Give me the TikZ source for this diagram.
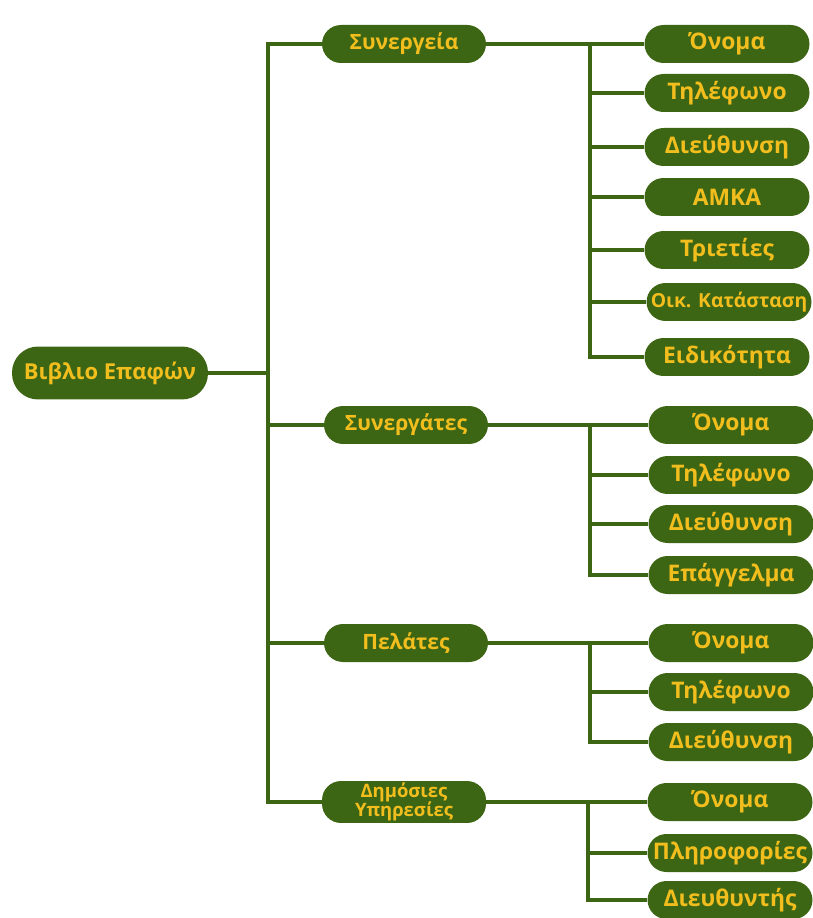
\documentclass[tikz,border=0pt]{standalone}
\usepackage{fontspec}
\setmainfont{Open Sans}
\usetikzlibrary{positioning}
\definecolor{boxgreen}{RGB}{61,102,20}
\definecolor{labelgold}{RGB}{242,190,30}

\begin{document}
\begin{tikzpicture}[
  x=0.02cm, y=-0.02cm,
  box/.style={fill=boxgreen,text=labelgold,rounded corners=0.38cm,minimum height=0.76cm,inner sep=1pt,align=center},
  root/.style={box,rounded corners=0.52cm,minimum width=3.92cm,minimum height=1.06cm,font=\bfseries\fontsize{12.5}{14}\selectfont},
  cat/.style={box,minimum width=3.28cm,font=\bfseries\fontsize{12}{14}\selectfont},
  leaf/.style={box,minimum width=3.3cm,font=\bfseries\fontsize{13}{15}\selectfont},
  small/.style={font=\bfseries\fontsize{11}{12}\selectfont},
  line/.style={draw=boxgreen,line width=2pt},
]
\useasboundingbox (0,0) rectangle (812,918);

\node[root] (book)     at (110,373) {Βιβλιο Επαφών};
\node[cat]  (garages)  at (404,44)  {Συνεργεία};
\node[cat]  (partners) at (406,425) {Συνεργάτες};
\node[cat]  (clients)  at (406,643) {Πελάτες};
\node[cat,font=\bfseries\fontsize{10.5}{11}\selectfont] (services) at (404,802) {Δημόσιες\\Υπηρεσίες};

% Συνεργεία
\node[leaf] (g-name)    at (727,44)  {Όνομα};
\node[leaf] (g-phone)   at (727,93)  {Τηλέφωνο};
\node[leaf] (g-address) at (727,147) {Διεύθυνση};
\node[leaf] (g-amka)    at (727,197) {ΑΜΚΑ};
\node[leaf] (g-years)   at (727,250) {Τριετίες};
\node[leaf,small] (g-family) at (729,302) {Οικ. Κατάσταση};
\node[leaf] (g-special) at (727,357) {Ειδικότητα};

% Συνεργάτες
\node[leaf] (p-name)    at (731,425) {Όνομα};
\node[leaf] (p-phone)   at (731,475) {Τηλέφωνο};
\node[leaf] (p-address) at (731,524) {Διεύθυνση};
\node[leaf] (p-job)     at (731,575) {Επάγγελμα};

% Πελάτες
\node[leaf] (c-name)    at (731,643) {Όνομα};
\node[leaf] (c-phone)   at (731,692) {Τηλέφωνο};
\node[leaf] (c-address) at (731,742) {Διεύθυνση};

% Δημόσιες Υπηρεσίες
\node[leaf] (s-name)    at (730,802) {Όνομα};
\node[leaf] (s-info)    at (730,853) {Πληροφορίες};
\node[leaf] (s-head)    at (730,900) {Διευθυντής};

\coordinate (trunk) at (268,373);
\coordinate (fork)  at (590,0);
\coordinate (fork4) at (588,0);

\draw[line] (book) -- (trunk);
\draw[line] (garages.west) -| (trunk) |- (services.west);
\draw[line] (trunk |- partners) -- (partners);
\draw[line] (trunk |- clients) -- (clients);

\draw[line] (garages) -- (g-name);
\draw[line] (fork |- g-name) |- (g-special.west);
\foreach \l in {g-phone,g-address,g-amka,g-years,g-family}
  \draw[line] (fork |- \l) -- (\l);

\draw[line] (partners) -- (p-name);
\draw[line] (fork |- p-name) |- (p-job.west);
\foreach \l in {p-phone,p-address}
  \draw[line] (fork |- \l) -- (\l);

\draw[line] (clients) -- (c-name);
\draw[line] (fork |- c-name) |- (c-address.west);
\draw[line] (fork |- c-phone) -- (c-phone);

\draw[line] (services) -- (s-name);
\draw[line] (fork4 |- s-name) |- (s-head.west);
\draw[line] (fork4 |- s-info) -- (s-info);
\end{tikzpicture}
\end{document}
